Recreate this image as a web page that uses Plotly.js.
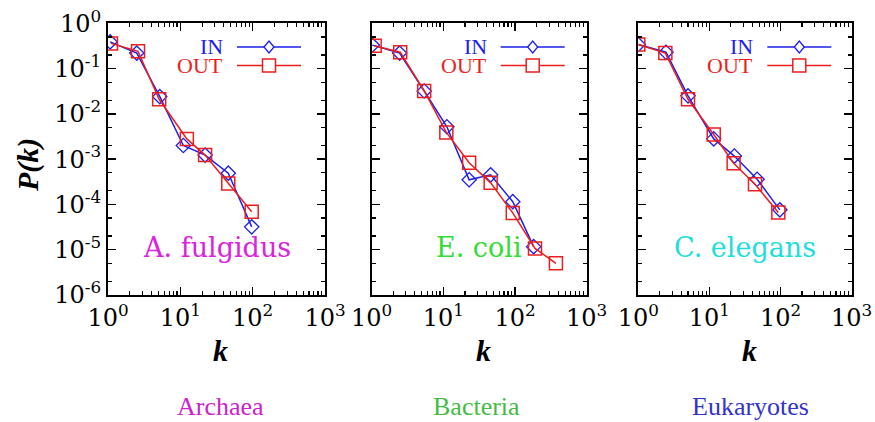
<!DOCTYPE html>
<html>
<head>
<meta charset="utf-8">
<script src="https://cdn.plot.ly/plotly-3.0.1.min.js"></script>
<style>html,body{margin:0;padding:0;background:#fff;}#chart{width:875px;height:422px;}</style>
</head>
<body>
<div id="chart"></div>
<script>
// ---- Data ----
const panelNames = ["A. fulgidus", "E. coli", "C. elegans"];
const panelColors = ["#dd22dd", "#33dd33", "#22dddd"];
const groupNames = ["Archaea", "Bacteria", "Eukaryotes"];
const groupColors = ["#cc22cc", "#44bb44", "#3333cc"];
const seriesNames = ["IN", "OUT"];

const kA_in  = [1.07, 2.5, 5.2, 11, 22, 46, 97];
const pA_in  = [0.39, 0.22, 0.024, 0.0020, 0.00123, 0.00049, 3.2e-5];
const kA_out = [1.1, 2.6, 5.1, 12.3, 22, 46, 97];
const pA_out = [0.36, 0.24, 0.021, 0.0028, 0.00123, 0.00029, 6.9e-5];

const kE_in  = [1.02, 2.45, 5.4, 11.2, 22.9, 45.7, 93, 182];
const pE_in  = [0.33, 0.22, 0.032, 0.0052, 0.00035, 0.00045, 0.000115, 1.17e-5];
const kE_out = [1.1, 2.5, 5.4, 11, 22.9, 45.7, 93, 190, 372];
const pE_out = [0.32, 0.23, 0.032, 0.0039, 0.00083, 0.00030, 6.5e-5, 1.07e-5, 5.0e-6];

const kC_in  = [1.0, 2.45, 5.0, 11.5, 22.4, 46.8, 97.7];
const pC_in  = [0.34, 0.23, 0.025, 0.0028, 0.00117, 0.00036, 7.6e-5];
const kC_out = [1.0, 2.4, 5.0, 11.5, 21.9, 43.7, 93];
const pC_out = [0.34, 0.22, 0.021, 0.0035, 0.00081, 0.00028, 6.6e-5];

const xTickVals = [1, 10, 100, 1000];
const xTickText = ["10<sup>0</sup>", "10<sup>1</sup>", "10<sup>2</sup>", "10<sup>3</sup>"];
const yTickVals = [1e-6, 1e-5, 1e-4, 1e-3, 1e-2, 1e-1, 1];
const yTickText = ["10<sup>-6</sup>", "10<sup>-5</sup>", "10<sup>-4</sup>", "10<sup>-3</sup>", "10<sup>-2</sup>", "10<sup>-1</sup>", "10<sup>0</sup>"];

// ---- Layout geometry (pixels) ----
const W = 875, H = 422;
const panelPx = [[108, 325], [371.7, 586.7], [638.3, 851.7]];
const plotTop = 23.3, plotBottom = 295;
const px = v => v / W;
const py = v => 1 - v / H;

const BLUE = "rgb(30,30,235)";
const RED = "rgb(235,30,30)";

const panelData = [
  [[kA_in, pA_in], [kA_out, pA_out]],
  [[kE_in, pE_in], [kE_out, pE_out]],
  [[kC_in, pC_in], [kC_out, pC_out]]
];

const traces = [];
panelData.forEach((pd, i) => {
  const xa = i === 0 ? "x" : "x" + (i + 1);
  const ya = i === 0 ? "y" : "y" + (i + 1);
  traces.push({
    x: pd[0][0], y: pd[0][1], xaxis: xa, yaxis: ya, name: seriesNames[0],
    mode: "lines+markers", showlegend: false, hoverinfo: "skip",
    line: {color: BLUE, width: 1.5},
    marker: {symbol: "diamond-open", size: 11, color: BLUE, line: {width: 1.3, color: BLUE}}
  });
  traces.push({
    x: pd[1][0], y: pd[1][1], xaxis: xa, yaxis: ya, name: seriesNames[1],
    mode: "lines+markers", showlegend: false, hoverinfo: "skip",
    line: {color: RED, width: 1.5},
    marker: {symbol: "square-open", size: 13, color: RED, line: {width: 1.5, color: RED}}
  });
});

const tickFont = {family: "DejaVu Serif", size: 24, color: "#000"};

function xAxis(i) {
  return {
    type: "log", range: [0, 3], domain: [px(panelPx[i][0]), px(panelPx[i][1])],
    anchor: i === 0 ? "y" : "y" + (i + 1),
    tickmode: "array", tickvals: xTickVals, ticktext: xTickText,
    ticks: "inside", ticklen: 8, tickwidth: 1.5, tickcolor: "#000",
    showline: true, linewidth: 2, linecolor: "#000", mirror: "allticks",
    showgrid: false, zeroline: false, tickfont: tickFont,
    minor: {tickmode: "linear", dtick: "D1", ticks: "inside", ticklen: 4, tickwidth: 1.2, tickcolor: "#000", showgrid: false},
    fixedrange: true
  };
}
function yAxis(i) {
  return {
    type: "log", range: [-6, 0], domain: [py(plotBottom), py(plotTop)],
    anchor: i === 0 ? "x" : "x" + (i + 1),
    tickmode: "array", tickvals: yTickVals, ticktext: yTickText,
    showticklabels: i === 0,
    ticks: "inside", ticklen: 8, tickwidth: 1.5, tickcolor: "#000",
    showline: true, linewidth: 2, linecolor: "#000", mirror: "allticks",
    showgrid: false, zeroline: false, tickfont: tickFont,
    minor: {tickmode: "linear", dtick: "D2", ticks: "inside", ticklen: 4, tickwidth: 1.2, tickcolor: "#000", showgrid: false},
    fixedrange: true
  };
}

const annotations = [];
const shapes = [];

function label(xp, yp, text, font, extra) {
  return Object.assign({
    xref: "paper", yref: "paper", x: px(xp), y: py(yp), showarrow: false,
    xanchor: "center", yanchor: "middle", text: text, font: font
  }, extra || {});
}

// y-axis title
annotations.push(label(28, 165, "<b><i>P(k)</i></b>",
  {family: "Liberation Serif", size: 30, color: "#000"}, {textangle: -90}));

panelPx.forEach((p, i) => {
  const cx = (p[0] + p[1]) / 2;
  // x-axis title
  annotations.push(label(cx + 4, 350, "<b><i>k</i></b>",
    {family: "Liberation Serif", size: 30, color: "#000"}));
  // species label inside panel
  annotations.push(label(cx, 248, panelNames[i],
    {family: "DejaVu Serif", size: 27, color: panelColors[i]}));
  // group label below
  const gx = [220, 476, 750][i];
  annotations.push(label(gx, 406, groupNames[i],
    {family: "Liberation Serif", size: 26, color: groupColors[i]}));
  // legend (text left of sample)
  const rows = [[47, BLUE, "diamond"], [65.5, RED, "square"]];
  rows.forEach((r, j) => {
    annotations.push(label(p[0] + 117, r[0], seriesNames[j],
      {family: "Liberation Serif", size: 22, color: r[1]}, {xanchor: "right"}));
    shapes.push({
      type: "line", xref: "paper", yref: "paper",
      x0: px(p[0] + 129), x1: px(p[0] + 193), y0: py(r[0]), y1: py(r[0]),
      line: {color: r[1], width: 1.5}
    });
    const mx = p[0] + 161, my = r[0];
    if (r[2] === "diamond") {
      shapes.push({
        type: "path", xref: "paper", yref: "paper",
        path: `M${px(mx - 5)},${py(my)} L${px(mx)},${py(my - 6)} L${px(mx + 5)},${py(my)} L${px(mx)},${py(my + 6)} Z`,
        line: {color: r[1], width: 1.3}, fillcolor: "#fff"
      });
    } else {
      shapes.push({
        type: "rect", xref: "paper", yref: "paper",
        x0: px(mx - 6.5), x1: px(mx + 6.5), y0: py(my - 6.5), y1: py(my + 6.5),
        line: {color: r[1], width: 1.5}, fillcolor: "#fff"
      });
    }
  });
});

const layout = {
  width: W, height: H,
  margin: {l: 0, r: 0, t: 0, b: 0},
  paper_bgcolor: "#fff", plot_bgcolor: "#fff",
  showlegend: false,
  xaxis: xAxis(0), xaxis2: xAxis(1), xaxis3: xAxis(2),
  yaxis: yAxis(0), yaxis2: yAxis(1), yaxis3: yAxis(2),
  annotations: annotations, shapes: shapes
};

Plotly.newPlot("chart", traces, layout, {staticPlot: true, displayModeBar: false});
</script>
</body>
</html>
